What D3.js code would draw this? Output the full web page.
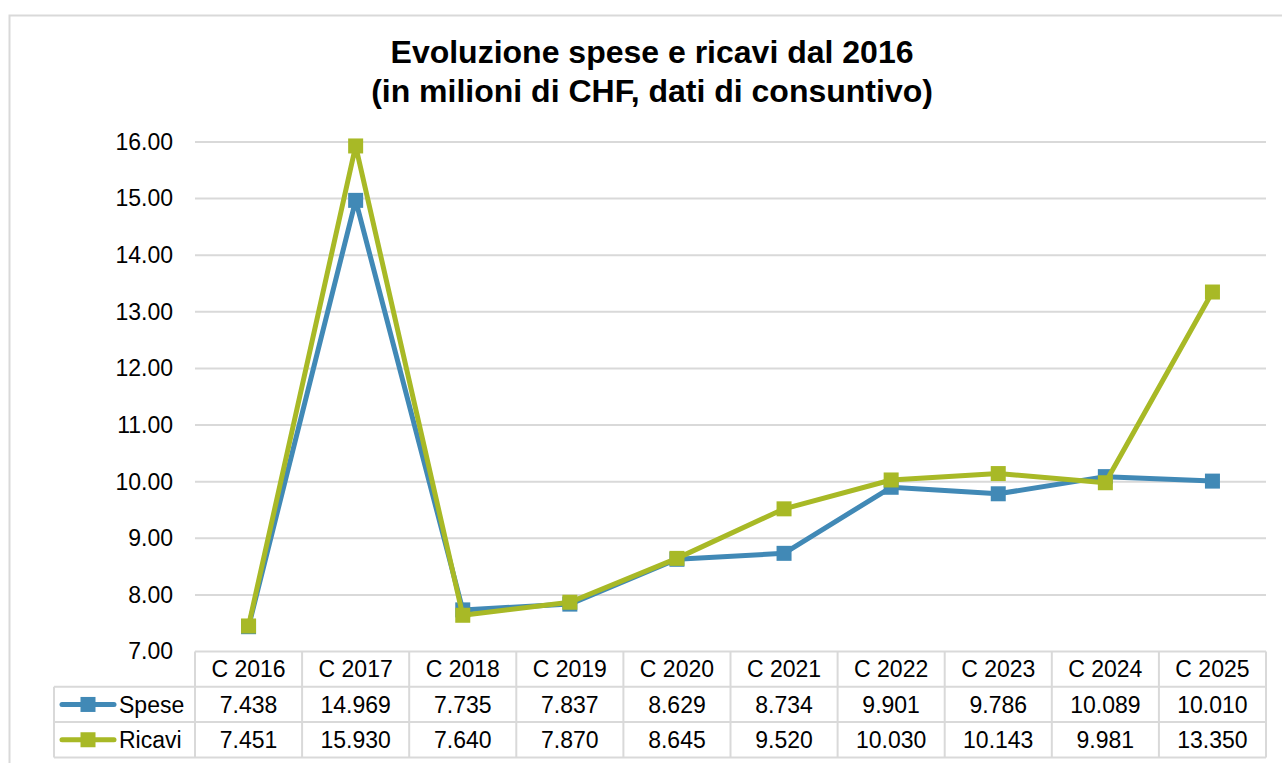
<!DOCTYPE html>
<html>
<head>
<meta charset="utf-8">
<script src="https://cdnjs.cloudflare.com/ajax/libs/d3/7.8.5/d3.min.js"></script>
<style>
  body { margin: 0; background: #fff; }
  text { font-family: "Liberation Sans", Arial, sans-serif; fill: #000; }
</style>
</head>
<body>
<div id="chart"></div>
<script>
// data
var categories = ["C 2016","C 2017","C 2018","C 2019","C 2020","C 2021","C 2022","C 2023","C 2024","C 2025"];
var spese  = [7.438, 14.969, 7.735, 7.837, 8.629, 8.734, 9.901, 9.786, 10.089, 10.010];
var ricavi = [7.451, 15.930, 7.640, 7.870, 8.645, 9.520, 10.030, 10.143, 9.981, 13.350];
var yTicks = [7,8,9,10,11,12,13,14,15,16];
var titleLines = ["Evoluzione spese e ricavi dal 2016", "(in milioni di CHF, dati di consuntivo)"];

var series = [
  {name: "Spese",  values: spese,  color: "#4189b6"},
  {name: "Ricavi", values: ricavi, color: "#a8b926"}
];

var width = 1282, height = 763;
var plotLeft = 195, plotRight = 1266, plotTop = 142, plotBottom = 651.5;
var rowH = 35.3;
var legendLeft = 54;
var fs = "23px";

var svg = d3.select("#chart").append("svg")
  .attr("width", width)
  .attr("height", height);

// outer frame
svg.append("rect")
  .attr("x", 9.5).attr("y", 15.5)
  .attr("width", 1300).attr("height", 800)
  .attr("fill", "none")
  .attr("stroke", "#d9d9d9")
  .attr("stroke-width", 2);

// title
titleLines.forEach(function(t, i) {
  svg.append("text")
    .attr("x", 652).attr("y", 63 + i * 39)
    .attr("text-anchor", "middle")
    .style("font-size", "32px").style("font-weight", "bold")
    .text(t);
});

var x = d3.scaleBand().domain(categories).range([plotLeft, plotRight]);
var y = d3.scaleLinear().domain([7, 16]).range([plotBottom, plotTop]);

// gridlines
svg.append("g").selectAll("line")
  .data(yTicks.slice(1))
  .enter().append("line")
  .attr("x1", plotLeft).attr("x2", plotRight)
  .attr("y1", function(d) { return y(d); })
  .attr("y2", function(d) { return y(d); })
  .attr("stroke", "#d9d9d9")
  .attr("stroke-width", 2);

// y axis labels
var yAxis = d3.axisLeft(y).tickValues(yTicks).tickFormat(d3.format(".2f")).tickSize(0).tickPadding(22);
var ya = svg.append("g").attr("transform", "translate(" + plotLeft + ",0)").call(yAxis);
ya.select(".domain").remove();
ya.selectAll("text")
  .style("font-size", fs)
  .style("font-family", "Liberation Sans, Arial, sans-serif")
  .attr("fill", "#000");

// lines + markers
var line = d3.line()
  .x(function(d, i) { return x(categories[i]) + x.bandwidth() / 2; })
  .y(function(d) { return y(d); });

series.forEach(function(s) {
  svg.append("path")
    .datum(s.values)
    .attr("d", line)
    .attr("fill", "none")
    .attr("stroke", s.color)
    .attr("stroke-width", 5)
    .attr("stroke-linejoin", "round");
  svg.append("g").selectAll("rect")
    .data(s.values)
    .enter().append("rect")
    .attr("x", function(d, i) { return x(categories[i]) + x.bandwidth() / 2 - 7.5; })
    .attr("y", function(d) { return y(d) - 7.5; })
    .attr("width", 15).attr("height", 15)
    .attr("fill", s.color);
});

// data table
var table = svg.append("g");
var gridColor = "#d9d9d9";
var rowsY = [plotBottom, plotBottom + rowH, plotBottom + 2 * rowH, plotBottom + 3 * rowH];

table.append("line")
  .attr("x1", plotLeft).attr("x2", plotRight)
  .attr("y1", rowsY[0]).attr("y2", rowsY[0])
  .attr("stroke", gridColor).attr("stroke-width", 2);
rowsY.slice(1).forEach(function(yy) {
  table.append("line")
    .attr("x1", legendLeft).attr("x2", plotRight)
    .attr("y1", yy).attr("y2", yy)
    .attr("stroke", gridColor).attr("stroke-width", 2);
});
var vx = categories.map(function(c) { return x(c); }).concat([plotRight]);
vx.forEach(function(xx) {
  table.append("line")
    .attr("x1", xx).attr("x2", xx)
    .attr("y1", rowsY[0]).attr("y2", rowsY[3])
    .attr("stroke", gridColor).attr("stroke-width", 2);
});
table.append("line")
  .attr("x1", legendLeft).attr("x2", legendLeft)
  .attr("y1", rowsY[1]).attr("y2", rowsY[3])
  .attr("stroke", gridColor).attr("stroke-width", 2);

// header
table.selectAll("text.cat")
  .data(categories)
  .enter().append("text")
  .attr("class", "cat")
  .attr("x", function(d) { return x(d) + x.bandwidth() / 2; })
  .attr("y", rowsY[0] + rowH / 2)
  .attr("dy", "0.35em")
  .attr("text-anchor", "middle")
  .style("font-size", fs)
  .text(function(d) { return d; });

var fmt = d3.format(".3f");
series.forEach(function(s, r) {
  var cy = rowsY[r + 1] + rowH / 2;
  table.append("g").selectAll("text")
    .data(s.values)
    .enter().append("text")
    .attr("x", function(d, i) { return x(categories[i]) + x.bandwidth() / 2; })
    .attr("y", cy)
    .attr("dy", "0.35em")
    .attr("text-anchor", "middle")
    .style("font-size", fs)
    .text(function(d) { return fmt(d); });
  // legend key
  table.append("line")
    .attr("x1", 62).attr("x2", 114)
    .attr("y1", cy).attr("y2", cy)
    .attr("stroke", s.color).attr("stroke-width", 5)
    .attr("stroke-linecap", "round");
  table.append("rect")
    .attr("x", 88 - 7.5).attr("y", cy - 7.5)
    .attr("width", 15).attr("height", 15)
    .attr("fill", s.color);
  table.append("text")
    .attr("x", 119).attr("y", cy)
    .attr("dy", "0.35em")
    .style("font-size", fs)
    .text(s.name);
});
</script>
</body>
</html>
